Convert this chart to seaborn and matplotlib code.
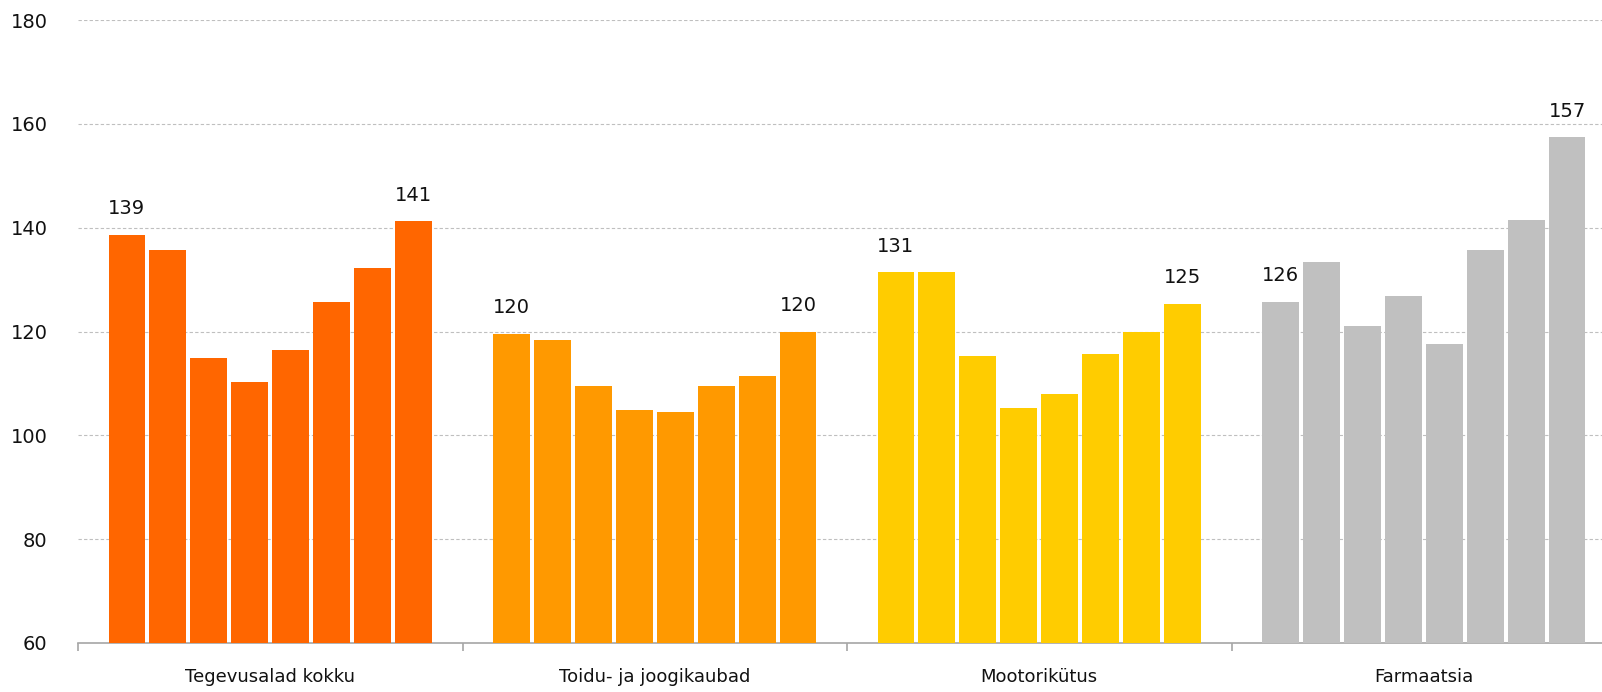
import numpy as np
import pandas as pd
import matplotlib
matplotlib.use("Agg")
import matplotlib.pyplot as plt
import seaborn as sns

# groups and the 8 bars in each
groups = ["Tegevusalad kokku", "Toidu- ja joogikaubad", "Mootorikütus", "Farmaatsia"]
tegevusalad = [138.6, 135.7, 114.9, 110.2, 116.4, 125.7, 132.3, 141.2]
toidu = [119.6, 118.4, 109.5, 104.9, 104.5, 109.5, 111.4, 120.0]
mootori = [131.4, 131.4, 115.3, 105.3, 108.0, 115.7, 120.0, 125.3]
farmaatsia = [125.7, 133.4, 121.0, 126.9, 117.6, 135.7, 141.5, 157.4]
colors = ["#FF6600", "#FF9900", "#FFCC00", "#C0C0C0"]
yticks = [60, 80, 100, 120, 140, 160, 180]

series = [tegevusalad, toidu, mootori, farmaatsia]
rows = []
for g, vals in zip(groups, series):
    for i, v in enumerate(vals):
        rows.append({"group": g, "bar": i, "value": v})
df = pd.DataFrame(rows)

sns.set_style("white")
plt.rcParams['font.family'] = ['DejaVu Sans']

fig = plt.figure(figsize=(16.02, 6.92), dpi=100)
ax = fig.add_axes([78 / 1602, 1 - 643 / 692, 1 - 78 / 1602, (643 - 20) / 692])

sns.barplot(data=df, x="group", y="value", hue="bar", order=groups,
            width=0.852, gap=0.1, palette=["#888888"] * 8, legend=False,
            ax=ax, saturation=1, zorder=3)

# colour each bar by its group
for j, cont in enumerate(ax.containers):
    for i, patch in enumerate(cont):
        patch.set_facecolor(colors[i])
        patch.set_edgecolor("none")

# labels on first and last bar of each group
for i, vals in enumerate(series):
    for j in (0, len(vals) - 1):
        p = ax.containers[j][i]
        ax.annotate(f"{round(vals[j]):d}", (p.get_x() + p.get_width() / 2, vals[j]),
                    xytext=(0, 12), textcoords="offset points",
                    ha="center", va="bottom", fontsize=14, color="#111111")

ax.set_ylim(60, 180)
ax.set_yticks(yticks)
ax.set_xlim(-0.5, 3.5 - 14 / 384.5)
ax.yaxis.grid(True, linestyle=(0, (3, 2)), color="#BFBFBF", linewidth=0.8, zorder=0)
ax.set_axisbelow(True)
for s in ["left", "right", "top"]:
    ax.spines[s].set_visible(False)
ax.spines["bottom"].set_color("#A6A6A6")
ax.spines["bottom"].set_linewidth(1.2)

ax.set_xticks(np.arange(len(groups)))
ax.set_xticklabels(groups, fontsize=13, color="#111111")
ax.tick_params(axis="x", which="major", bottom=True, length=0, pad=18)
ax.set_xticks(np.arange(len(groups)) - 0.5, minor=True)
ax.tick_params(axis="x", which="minor", bottom=True, length=6, color="#A6A6A6",
               width=1.2, direction="out")
ax.tick_params(axis="y", length=0, pad=22, labelsize=14, labelcolor="#111111")
ax.set_xlabel("")
ax.set_ylabel("")

fig.savefig("out.png", dpi=100)
